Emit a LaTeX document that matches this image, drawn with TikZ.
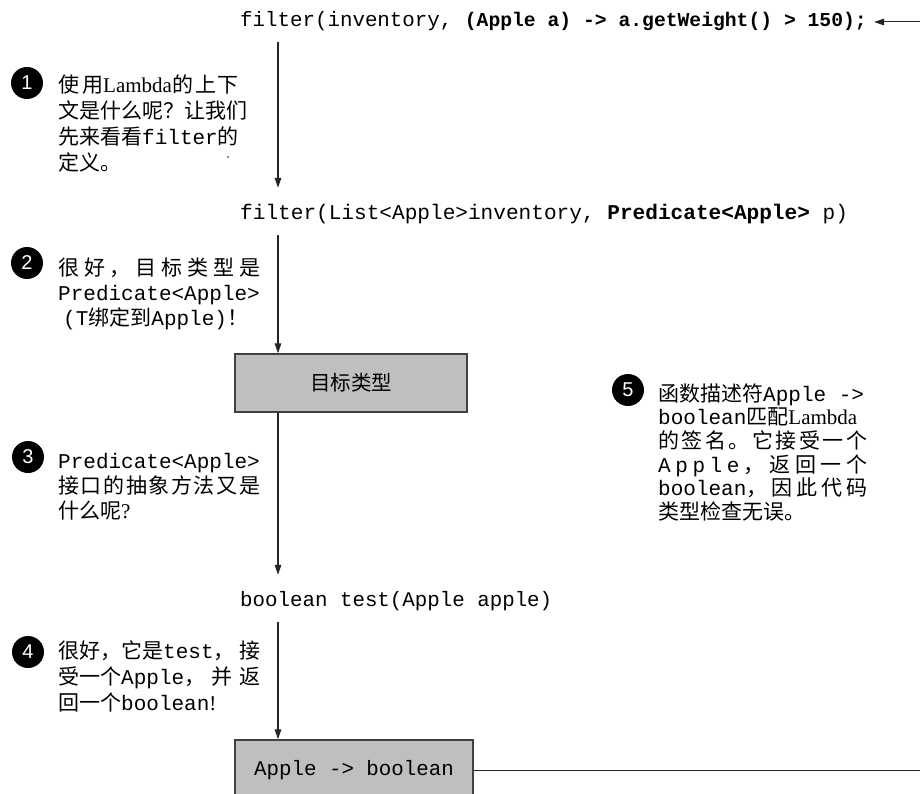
\documentclass[tikz,border=0pt]{standalone}
\usepackage{fontspec}
\setmainfont{Liberation Serif}
\setmonofont{Liberation Mono}
\newfontfamily\cjk{Noto Sans CJK SC}
\newfontfamily\latfont{Liberation Serif}
\newfontfamily\numfont{Liberation Sans}
\usetikzlibrary{arrows.meta}
\newcommand\lat[1]{{\latfont #1}}
\newcommand\jl[2]{\makebox[#1][s]{#2}}
\begin{document}
\begin{tikzpicture}[x=1pt,y=-1pt,
  code/.style={font=\ttfamily\fontsize{20.8}{24}\selectfont, inner sep=0pt, text height=14pt, text depth=5pt, anchor=west},
  num/.style={circle, fill=black, text=white, minimum size=32pt, inner sep=0pt, font=\numfont\fontsize{20}{20}\selectfont},
  note/.style={inner sep=0pt, anchor=base west, font=\cjk\fontsize{21}{26}\selectfont},
  graybox/.style={draw=black!75, line width=1.4pt, fill=black!25, inner sep=0pt},
  arr/.style={draw=black!85, line width=1.3pt, -{Triangle[length=10pt,width=6.5pt]}},
  link/.style={draw=black!85, line width=1.3pt}]
\useasboundingbox (0,0) rectangle (920,794);
\coordinate (col) at (278,0);
\coordinate (edge) at (930,770);

% code lines and boxes
\node[code] (c1) at (240,22) {filter(inventory, {\bfseries\fontsize{19.7}{24}\selectfont (Apple a) -> a.getWeight() > 150);}};
\node[code, font=\ttfamily\fontsize{21.1}{24}\selectfont] (c2) at (240,215) {filter(List<Apple>inventory, \textbf{Predicate<Apple>} p)};
\node[graybox, minimum width=232pt, minimum height=58pt, font=\cjk\fontsize{20.5}{24}\selectfont] (b1) at (351,383) {目标类型};
\node[code] (c3) at (240,602) {boolean test(Apple apple)};
\node[graybox, minimum width=238pt, minimum height=60pt, font=\ttfamily\fontsize{20.8}{24}\selectfont] (b2) at (354,770) {Apple -> boolean};

% connectors
\draw[arr, shorten <=10.5pt, shorten >=17.5pt] (c1.south -| col) -- (c2.north -| col);
\draw[arr, shorten <=10.5pt] (c2.south -| col) -- (b1.north -| col);
\draw[arr, shorten >=17.5pt] (b1.south -| col) -- (c3.north -| col);
\draw[arr, shorten <=10.5pt] (c3.south -| col) -- (b2.north -| col);
\draw[arr, line width=1pt] (b2.east) -- (b2.east -| edge) |- ([xshift=7pt]c1.east);

% numbered markers
\node[num] (n1) at (27,83) {1};
\node[num] (n2) at (27,263) {2};
\node[num] (n3) at (28,457) {3};
\node[num] (n4) at (28,652) {4};
\node[num] (n5) at (628,390) {5};

% notes
\node[note] (t1) at (58,93) {\parbox[t]{230pt}{\baselineskip=26pt\lineskiplimit=-30pt
  使\hspace{3pt}用\lat{Lambda}的\hspace{2pt}上\hspace{2pt}下\\
  文是什么呢？让我们\\
  先来看看\texttt{filter}的\\
  定义。}};
\fill[black!70] (228,157) circle (1pt);

\node[note] (t2) at (58,275) {\parbox[t]{230pt}{\baselineskip=25.5pt\lineskiplimit=-30pt
  \jl{202pt}{很\hfill 好\hfill ，\hfill 目\hfill 标\hfill 类\hfill 型\hfill 是}\\
  \texttt{Predicate<Apple>}\\
  \hspace*{5pt}\texttt{(T}绑定到\texttt{Apple)}！}};

\node[note] (t3) at (58,468) {\parbox[t]{230pt}{\baselineskip=25pt\lineskiplimit=-30pt
  \texttt{Predicate<Apple>}\\
  \jl{202pt}{接\hfill 口\hfill 的\hfill 抽\hfill 象\hfill 方\hfill 法\hfill 又\hfill 是}\\
  什么呢\lat{?}}};

\node[note] (t4) at (58,658) {\parbox[t]{230pt}{\baselineskip=26pt\lineskiplimit=-30pt
  \jl{202pt}{很好，它是\texttt{test}，\hfill 接}\\
  \jl{202pt}{受一个\texttt{Apple}，\hfill 并\hfill 返}\\
  回一个\texttt{boolean}\lat{!}}};

\node[note] (t5) at (658,401) {\parbox[t]{230pt}{\baselineskip=23.7pt\lineskiplimit=-30pt
  函数描述符\texttt{Apple ->}\\
  \texttt{boolean}匹配\lat{Lambda}\\
  \jl{209pt}{的\hfill 签\hfill 名\hfill 。\hfill 它\hfill 接\hfill 受\hfill 一\hfill 个}\\
  \jl{209pt}{\texttt{A}\hfill\texttt{p}\hfill\texttt{p}\hfill\texttt{l}\hfill\texttt{e}\hfill ，\hfill 返\hfill 回\hfill 一\hfill 个}\\
  \jl{209pt}{\texttt{boolean}，\hfill 因\hfill 此\hfill 代\hfill 码}\\
  类型检查无误。}};
\end{tikzpicture}
\end{document}
